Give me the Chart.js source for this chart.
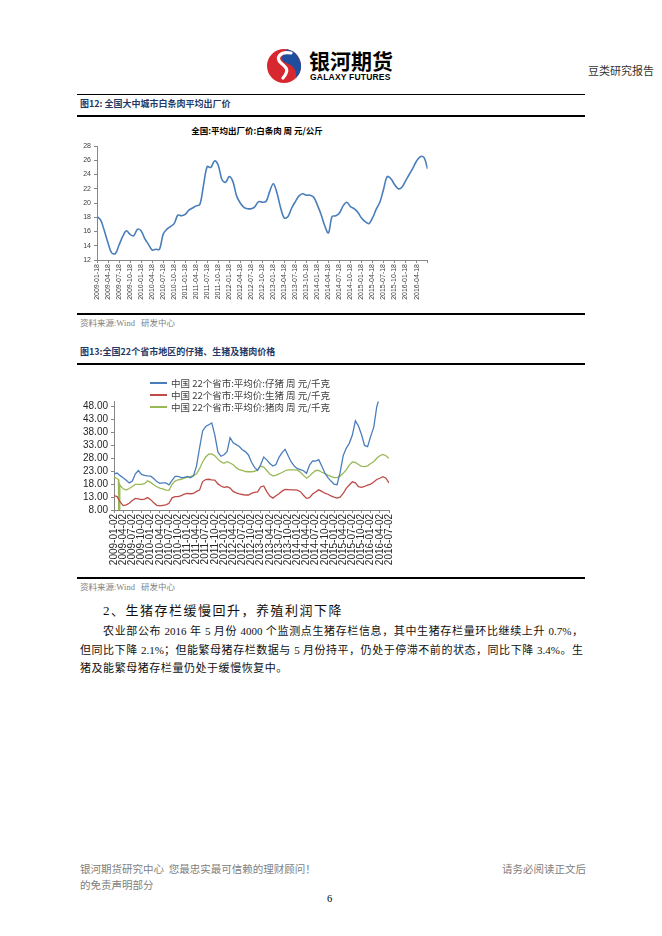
<!DOCTYPE html>
<html>
<head>
<meta charset="utf-8">
<script src="https://cdn.jsdelivr.net/npm/chart.js@4.4.0/dist/chart.umd.min.js"></script>
<style>
  body { margin: 0; background: #fff; }
  #page { position: relative; width: 662px; height: 936px; overflow: hidden; background: #fff;
          font-family: "Noto Sans CJK SC", "Noto Sans", sans-serif; color: #000; }
  .t { position: absolute; white-space: nowrap; }
  .rule { position: absolute; left: 77px; width: 508px; height: 1px; background: #000; }
  .figtitle { font-size: 9px; line-height: 9px; font-weight: bold; color: #1f3864; left: 80px; }
  .src { font-family: "Liberation Serif", "Noto Sans CJK SC", serif; font-size: 8.5px; line-height: 9px; color: #808080; left: 80px; word-spacing: 4px; }
  .leg { position: absolute; left: 150px; font-size: 9.5px; line-height: 10px; color: #404040; white-space: nowrap; }
  .leg i { display: inline-block; width: 17px; height: 2px; vertical-align: middle; margin-right: 4px; position: relative; top: -1px; }
  .body { font-family: "Liberation Serif", "Noto Sans CJK SC", serif; font-size: 11px; line-height: 12px; color: #111; }
  .just { text-align: justify; text-align-last: justify; white-space: normal; }
  .foot { font-size: 10.5px; line-height: 11px; color: #808080; }
  canvas { position: absolute; }
</style>
</head>
<body>
<div id="page">
  <!-- header -->
  <svg class="t" style="left:266px;top:48px" width="36" height="36" viewBox="0 0 36 36">
    <circle cx="18" cy="18" r="17" fill="#d7282f"/>
    <path d="M21 1.3 A17 17 0 0 1 30 30 C 31 22 27 17 20 15 C 15 13.5 14 8 21 1.3 Z" fill="#1f4e9e"/>
    <path d="M25 5 C 14 3 9 10 15 15 C 20 19 24 22 17 30" stroke="#fff" stroke-width="3.2" fill="none" stroke-linecap="round"/>
  </svg>
  <div class="t" style="left:309px;top:49px;font-size:21px;line-height:22px;font-weight:bold;">银河期货</div>
  <div class="t" style="left:310px;top:72.5px;font-family:'Liberation Sans',Arial,sans-serif;font-size:8.5px;line-height:9px;font-weight:bold;letter-spacing:0.2px;">GALAXY FUTURES</div>
  <div class="t" style="left:588px;top:64px;font-size:11px;line-height:12px;color:#333;">豆类研究报告</div>

  <div class="rule" style="top:94px"></div>
  <div class="t figtitle" style="top:98.5px">图12: 全国大中城市白条肉平均出厂价</div>
  <div class="rule" style="top:115px;height:1.5px"></div>

  <div class="t" style="left:77px;width:360px;top:125.5px;text-align:center;font-size:8.5px;line-height:9px;font-weight:bold;">全国:平均出厂价:白条肉 周 元/公斤</div>
  <canvas id="meatChart" width="360" height="190" style="left:77px;top:120px"></canvas>

  <div class="rule" style="top:313px;height:1.5px"></div>
  <div class="t src" style="top:318.5px">资料来源:Wind 研发中心</div>

  <div class="t figtitle" style="top:346.5px">图13:全国22个省市地区的仔猪、生猪及猪肉价格</div>
  <div class="rule" style="top:363px;height:1.5px"></div>

  <canvas id="pigChart" width="325" height="205" style="left:77px;top:370px"></canvas>
  <div class="leg" style="top:378px"><i style="background:#4a7ebb"></i>中国 22个省市:平均价:仔猪 周 元/千克</div>
  <div class="leg" style="top:390px"><i style="background:#be4b48"></i>中国 22个省市:平均价:生猪 周 元/千克</div>
  <div class="leg" style="top:402px"><i style="background:#98b954"></i>中国 22个省市:平均价:猪肉 周 元/千克</div>

  <div class="rule" style="top:577px;height:1.5px"></div>
  <div class="t src" style="top:582.5px">资料来源:Wind 研发中心</div>

  <!-- text -->
  <div class="t body" style="left:103px;top:604px;font-size:13px;line-height:14px;letter-spacing:1.5px;">2、生猪存栏缓慢回升，养殖利润下降</div>
  <div class="t body just" style="left:103px;top:625px;width:480px;">农业部公布 2016 年 5 月份 4000 个监测点生猪存栏信息，其中生猪存栏量环比继续上升 0.7%，</div>
  <div class="t body just" style="left:80px;top:644px;width:503px;">但同比下降 2.1%；但能繁母猪存栏数据与 5 月份持平，仍处于停滞不前的状态，同比下降 3.4%。生</div>
  <div class="t body" style="left:80px;top:662px;letter-spacing:0.55px;">猪及能繁母猪存栏量仍处于缓慢恢复中。</div>

  <!-- footer -->
  <div class="t foot" style="left:80px;top:862.5px">银河期货研究中心&nbsp; 您最忠实最可信赖的理财顾问！</div>
  <div class="t foot" style="left:502px;top:862.5px">请务必阅读正文后</div>
  <div class="t foot" style="left:80px;top:878.5px">的免责声明部分</div>
  <div class="t" style="left:327px;top:893px;font-family:'Liberation Serif',serif;font-size:10.5px;line-height:11px;">6</div>
</div>

<script>
// monthly readings, month 0 = 2009-01
const meatPrice = [
  18.1, 17.6, 16.1, 14.4, 13.0, 12.9, 14.1, 15.3, 16.1, 15.6,
  15.4, 16.3, 16.1, 15.0, 14.2, 13.4, 13.5, 13.5, 15.6, 16.3,
  16.7, 17.1, 18.3, 18.2, 18.4, 19.0, 19.3, 19.6, 19.8, 22.5,
  25.1, 25.0, 25.9, 25.3, 23.3, 22.9, 23.7, 23.0, 21.0, 20.0,
  19.4, 19.2, 19.2, 19.5, 20.2, 20.1, 20.2, 21.6, 22.7, 21.4,
  19.3, 17.9, 18.1, 19.3, 20.2, 21.0, 21.3, 21.1, 21.1, 20.8,
  19.7, 18.4, 16.8, 15.8, 18.1, 18.2, 18.6, 19.6, 20.1, 19.5,
  19.2, 18.7, 17.9, 17.4, 17.1, 17.9, 19.1, 20.1, 21.9, 23.7,
  23.4, 22.6, 22.0, 22.2, 23.1, 24.0, 24.9, 25.9, 26.5, 26.4,
  24.8
];
const meatTicks = [
  '2009-01-18', '2009-04-18', '2009-07-18', '2009-10-18',
  '2010-01-18', '2010-04-18', '2010-07-18', '2010-10-18',
  '2011-01-18', '2011-04-18', '2011-07-18', '2011-10-18',
  '2012-01-18', '2012-04-18', '2012-07-18', '2012-10-18',
  '2013-01-18', '2013-04-18', '2013-07-18', '2013-10-18',
  '2014-01-18', '2014-04-18', '2014-07-18', '2014-10-18',
  '2015-01-18', '2015-04-18', '2015-07-18', '2015-10-18',
  '2016-01-18', '2016-04-18'
];

const pigletPrice = [
  22.0, 22.3, 21.3, 20.5, 19.5, 18.5, 19.2, 22.0, 23.3, 21.8,
  21.4, 21.2, 21.1, 20.2, 19.0, 18.3, 18.5, 18.5, 17.7, 19.5,
  21.0, 21.0, 20.5, 20.6, 21.0, 20.5, 21.2, 25.0, 32.0, 38.6,
  40.3, 41.0, 41.7, 37.0, 30.5, 28.8, 29.4, 30.6, 36.0, 34.0,
  33.3, 32.6, 31.3, 30.6, 29.3, 26.5, 24.5, 23.3, 25.5, 28.5,
  27.4, 26.0, 25.0, 25.6, 28.4, 30.2, 31.5, 29.0, 26.6, 25.0,
  24.0, 23.6, 23.2, 22.2, 25.4, 27.0, 26.9, 27.5, 25.0, 22.3,
  20.5, 19.2, 18.0, 17.8, 22.5, 29.0, 31.9, 33.8, 37.0, 42.5,
  40.5, 37.2, 33.0, 32.5, 36.5, 40.0, 48.0, 52.0
];
const hogPrice = [
  13.6, 13.2, 11.1, 9.7, 10.0, 10.6, 11.7, 12.5, 12.3, 12.0,
  12.2, 12.8, 12.0, 10.8, 9.8, 9.6, 9.8, 10.0, 10.6, 12.7,
  13.2, 13.2, 13.6, 14.1, 14.4, 14.3, 14.4, 15.2, 15.7, 19.0,
  19.8, 19.9, 19.7, 19.6, 18.1, 17.3, 16.8, 17.0, 16.5, 15.2,
  14.6, 14.2, 14.0, 13.8, 13.8, 14.4, 14.8, 15.0, 16.9, 17.3,
  15.1, 13.4, 12.6, 13.5, 14.3, 15.3, 16.0, 15.9, 15.8, 15.8,
  15.7, 15.1, 13.7, 12.5, 12.8, 14.2, 15.0, 15.8, 15.2, 14.5,
  14.1, 13.5, 13.0, 12.6, 13.0, 14.4, 16.4, 17.7, 18.9, 18.5,
  17.0, 16.8, 17.1, 17.6, 18.0, 18.8, 19.8, 20.3, 20.9, 20.3,
  18.5
];
const porkPrice = [
  20.7, 20.2, 17.5, 16.2, 15.7, 16.3, 17.1, 17.9, 17.9, 17.9,
  18.2, 19.3, 18.7, 17.8, 17.0, 16.5, 16.2, 15.7, 15.6, 17.9,
  19.2, 19.7, 19.9, 20.3, 20.6, 20.9, 21.3, 22.0, 24.0, 26.6,
  28.5, 29.6, 29.7, 29.0, 27.7, 26.6, 26.1, 26.7, 26.2, 25.5,
  24.4, 23.6, 23.3, 22.9, 22.8, 22.8, 23.0, 23.5, 25.0, 24.6,
  23.3, 21.9, 21.2, 21.4, 22.0, 22.5, 23.2, 23.5, 23.5, 23.5,
  23.4, 22.6, 21.4, 20.3, 21.2, 22.3, 23.3, 23.3, 22.6, 22.1,
  21.5, 21.0, 20.5, 20.5, 21.2, 22.2, 23.5, 25.4, 26.6, 26.4,
  25.6, 24.9, 24.8, 25.1, 26.0, 26.7, 28.0, 29.0, 29.5, 29.0,
  28.0
];
// the zero readings in early 2009 (drop through the axis)
const porkSpikeMonth = [1.45, 1.6, 1.75, 1.9];
const porkSpikeValue = [19.8, 0, 0, 17.8];

const pigTicks = [
  '2009-01-02', '2009-04-02', '2009-07-02', '2009-10-02',
  '2010-01-02', '2010-04-02', '2010-07-02', '2010-10-02',
  '2011-01-02', '2011-04-02', '2011-07-02', '2011-10-02',
  '2012-01-02', '2012-04-02', '2012-07-02', '2012-10-02',
  '2013-01-02', '2013-04-02', '2013-07-02', '2013-10-02',
  '2014-01-02', '2014-04-02', '2014-07-02', '2014-10-02',
  '2015-01-02', '2015-04-02', '2015-07-02', '2015-10-02',
  '2016-01-02', '2016-04-02', '2016-07-02'
];
const pigYTicks = [8, 13, 18, 23, 28, 33, 38, 43, 48];

const AXIS_GREY = '#868686';
const toPoints = arr => arr.map((v, i) => ({ x: i, y: v }));

const xAxis = (labels, height, size, color) => ({
  type: 'linear', min: 0, max: 90,
  afterFit: s => { s.height = height; },
  border: { color: AXIS_GREY, width: 1 },
  grid: { drawOnChartArea: false, tickLength: 3, color: AXIS_GREY },
  ticks: {
    stepSize: 3, autoSkip: false, maxRotation: 90, minRotation: 90, padding: 1, color: color,
    font: { family: '"Liberation Sans", Arial, sans-serif', size: size },
    callback: v => labels[Math.round(v / 3)] ?? ''
  }
});

const baseOptions = (scales, padding) => ({
  responsive: false,
  animation: false,
  devicePixelRatio: 1,
  layout: { padding: padding },
  elements: { point: { radius: 0 } },
  plugins: { legend: { display: false }, title: { display: false }, tooltip: { enabled: false } },
  scales: scales
});

new Chart(document.getElementById('meatChart'), {
  type: 'line',
  data: {
    datasets: [{
      data: toPoints(meatPrice),
      borderColor: '#4a7ebb', borderWidth: 1.6, tension: 0.35, fill: false
    }]
  },
  options: baseOptions({
    x: xAxis(meatTicks, 50, 7, '#404040'),
    y: {
      min: 12, max: 28,
      afterFit: s => { s.width = 20; },
      border: { color: AXIS_GREY, width: 1 },
      grid: { drawOnChartArea: false, tickLength: 3, color: AXIS_GREY },
      ticks: { stepSize: 2, autoSkip: false, padding: 3, color: '#404040', font: { family: '"Liberation Sans", Arial, sans-serif', size: 7 } }
    }
  }, { top: 26, right: 6, left: 0, bottom: 0 })
});

const porkPoints = toPoints(porkPrice)
  .concat(porkSpikeMonth.map((m, i) => ({ x: m, y: porkSpikeValue[i] })))
  .sort((a, b) => a.x - b.x);

new Chart(document.getElementById('pigChart'), {
  type: 'line',
  data: {
    datasets: [
      { label: '中国 22个省市:平均价:仔猪 周 元/千克', data: toPoints(pigletPrice), borderColor: '#4a7ebb', borderWidth: 1.3, tension: 0 },
      { label: '中国 22个省市:平均价:生猪 周 元/千克', data: toPoints(hogPrice), borderColor: '#be4b48', borderWidth: 1.3, tension: 0 },
      { label: '中国 22个省市:平均价:猪肉 周 元/千克', data: porkPoints, borderColor: '#98b954', borderWidth: 1.3, tension: 0 }
    ]
  },
  options: baseOptions({
    x: xAxis(pigTicks, 65, 10, '#262626'),
    y: {
      min: 8, max: 50,
      afterFit: s => { s.width = 37; },
      afterBuildTicks: s => { s.ticks = pigYTicks.map(v => ({ value: v })); },
      border: { color: AXIS_GREY, width: 1 },
      grid: { drawOnChartArea: false, tickLength: 3, color: AXIS_GREY },
      ticks: {
        autoSkip: false, padding: 3, color: '#262626',
        font: { family: '"Liberation Sans", Arial, sans-serif', size: 10 },
        callback: v => v.toFixed(2)
      }
    }
  }, { top: 31.5, right: 9.5, left: 0, bottom: 0 })
});
</script>
</body>
</html>
